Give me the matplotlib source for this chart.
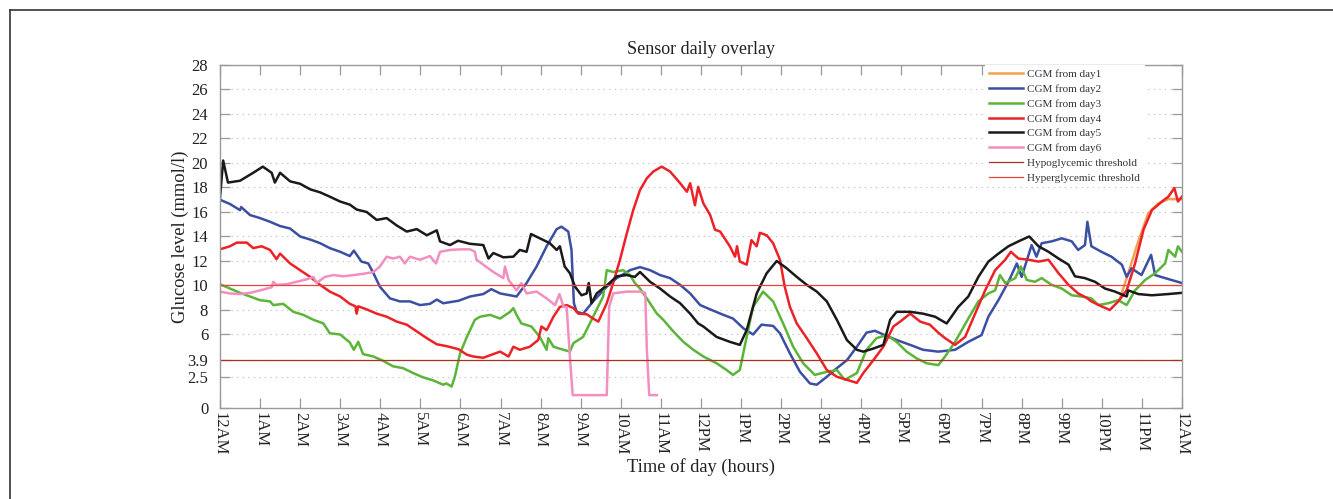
import matplotlib
matplotlib.use('Agg')
import matplotlib.pyplot as plt
from matplotlib.lines import Line2D

plt.rcParams['font.family'] = ['Liberation Serif', 'DejaVu Serif']

# hours since midnight / glucose (mmol/l)
day1_h = [22.45, 22.66, 22.91, 23.16, 23.41, 23.66, 24.0]
day1_v = [8.9, 11.0, 13.6, 15.9, 16.7, 17.05, 17.05]

day2_h = [0.0, 0.25, 0.5, 0.53, 0.75, 1.0, 1.25, 1.5, 1.75, 2.0, 2.25, 2.5, 2.74, 3.0, 3.24, 3.34,
          3.53, 3.7, 3.83, 3.99, 4.24, 4.49, 4.74, 4.99, 5.24, 5.41, 5.57, 5.95, 6.24, 6.57, 6.77,
          6.99, 7.4, 7.65, 7.9, 8.15, 8.4, 8.52, 8.69, 8.77, 8.83, 8.9, 9.06, 9.31, 9.65, 9.9,
          10.23, 10.48, 10.73, 10.98, 11.23, 11.48, 11.73, 11.98, 12.23, 12.56, 12.8, 13.06, 13.3,
          13.51, 13.8, 13.97, 14.22, 14.47, 14.72, 14.89, 15.14, 15.39, 15.64, 15.89, 16.13, 16.34,
          16.55, 16.88, 17.22, 17.54, 17.92, 18.34, 18.67, 19.0, 19.17, 19.42, 19.67, 19.88, 20.0,
          20.25, 20.37, 20.5, 20.75, 21.0, 21.25, 21.41, 21.58, 21.64, 21.74, 21.99, 22.24, 22.5,
          22.62, 22.74, 22.99, 23.23, 23.33, 23.58, 24.0]
day2_v = [17.0, 16.65, 16.15, 16.4, 15.75, 15.5, 15.2, 14.85, 14.65, 14.0, 13.75, 13.45, 13.05, 12.75,
          12.4, 12.85, 11.95, 11.8, 11.0, 9.9, 8.95, 8.7, 8.7, 8.4, 8.5, 8.85, 8.55, 8.75, 9.1, 9.3,
          9.7, 9.35, 9.1, 10.2, 11.55, 13.2, 14.6, 14.8, 14.4, 12.9, 8.55, 7.85, 7.7, 8.7, 9.9, 10.6,
          11.25, 11.5, 11.25, 10.85, 10.6, 10.05, 9.35, 8.4, 8.05, 7.6, 7.3, 6.5, 6.0, 6.8, 6.7, 6.1,
          4.45, 2.95, 2.0, 1.9, 2.55, 3.25, 3.9, 5.0, 6.15, 6.3, 6.0, 5.55, 5.15, 4.75, 4.6, 4.75,
          5.4, 5.95, 7.45, 8.8, 10.3, 11.8, 10.7, 13.3, 12.35, 13.45, 13.6, 13.85, 13.6, 12.9, 13.3,
          15.2, 13.2, 12.75, 12.35, 11.7, 10.7, 11.4, 10.85, 12.5, 10.85, 10.6, 10.2]

day3_h = [0.0, 0.25, 0.5, 0.75, 1.0, 1.25, 1.33, 1.58, 1.83, 2.08, 2.33, 2.58, 2.74, 3.0, 3.24, 3.34,
          3.45, 3.57, 3.83, 4.07, 4.32, 4.57, 4.82, 5.07, 5.32, 5.57, 5.65, 5.78, 5.86, 5.99, 6.16,
          6.36, 6.49, 6.74, 6.99, 7.24, 7.32, 7.4, 7.52, 7.77, 7.98, 8.15, 8.19, 8.32, 8.57, 8.73,
          8.82, 9.06, 9.31, 9.56, 9.65, 9.81, 10.06, 10.23, 10.35, 10.48, 10.73, 10.9, 11.06, 11.31,
          11.56, 11.81, 12.06, 12.39, 12.64, 12.8, 12.97, 13.14, 13.3, 13.55, 13.8, 14.05, 14.3,
          14.55, 14.84, 15.14, 15.39, 15.59, 15.89, 16.13, 16.38, 16.63, 16.88, 17.13, 17.38, 17.63,
          17.92, 18.09, 18.34, 18.67, 18.92, 19.17, 19.34, 19.46, 19.59, 19.84, 19.98, 20.13, 20.33,
          20.5, 20.75, 21.0, 21.25, 21.49, 21.74, 21.91, 22.16, 22.41, 22.62, 22.83, 23.08, 23.33,
          23.58, 23.66, 23.83, 23.9, 24.0]
day3_v = [10.1, 9.75, 9.4, 9.1, 8.8, 8.7, 8.4, 8.5, 7.85, 7.6, 7.2, 6.9, 6.1, 6.0, 5.35, 4.75, 5.4, 4.4,
          4.2, 3.85, 3.4, 3.25, 2.85, 2.5, 2.25, 1.9, 2.0, 1.75, 2.55, 4.45, 5.8, 7.2, 7.45, 7.6,
          7.3, 7.85, 8.15, 7.6, 6.9, 6.65, 5.8, 4.75, 5.7, 5.0, 4.75, 4.6, 5.3, 5.8, 7.45, 9.1,
          11.25, 11.1, 11.25, 10.85, 10.2, 9.75, 8.55, 7.7, 7.2, 6.25, 5.4, 4.75, 4.2, 3.65, 3.1,
          2.7, 3.1, 5.8, 8.25, 9.5, 8.7, 6.9, 5.0, 3.65, 2.7, 2.95, 3.1, 2.3, 2.85, 4.75, 5.7, 5.95,
          5.4, 4.6, 4.05, 3.65, 3.5, 4.2, 5.4, 7.3, 8.7, 9.35, 9.6, 10.85, 10.2, 10.6, 11.55, 10.45,
          10.3, 10.6, 10.05, 9.75, 9.2, 9.1, 8.95, 8.4, 8.55, 8.8, 8.4, 9.6, 10.45, 11.0, 11.8,
          12.9, 12.35, 13.2, 12.75]

day4_h = [0.0, 0.25, 0.42, 0.67, 0.83, 1.04, 1.25, 1.41, 1.5, 1.75, 2.0, 2.25, 2.5, 2.74, 3.0, 3.24,
          3.38, 3.41, 3.45, 3.66, 3.91, 4.16, 4.41, 4.66, 4.91, 5.16, 5.41, 5.65, 5.95, 6.16, 6.32,
          6.57, 6.82, 6.99, 7.2, 7.32, 7.48, 7.73, 7.94, 8.02, 8.15, 8.32, 8.48, 8.65, 8.82, 8.94,
          9.15, 9.31, 9.44, 9.65, 9.81, 9.98, 10.15, 10.31, 10.48, 10.65, 10.81, 11.02, 11.23,
          11.48, 11.65, 11.73, 11.85, 11.93, 12.06, 12.23, 12.35, 12.48, 12.72, 12.85, 12.9, 12.97,
          13.14, 13.26, 13.39, 13.47, 13.64, 13.8, 13.97, 14.09, 14.22, 14.39, 14.64, 14.89, 15.14,
          15.39, 15.64, 15.89, 16.05, 16.3, 16.55, 16.8, 16.97, 17.22, 17.47, 17.71, 17.92, 18.09,
          18.34, 18.59, 18.84, 19.09, 19.34, 19.59, 19.73, 19.92, 20.17, 20.42, 20.67, 20.92,
          21.17, 21.41, 21.62, 21.74, 21.99, 22.2, 22.41, 22.62, 22.83, 23.04, 23.25, 23.5, 23.66,
          23.81, 23.9, 24.0]
day4_v = [12.95, 13.2, 13.5, 13.5, 13.05, 13.2, 12.9, 12.15, 12.6, 11.8, 11.25, 10.7, 10.05, 9.5, 9.1,
          8.5, 8.3, 7.7, 8.3, 8.05, 7.7, 7.45, 7.05, 6.8, 6.25, 5.7, 5.2, 5.05, 4.8, 4.35, 4.2, 4.1,
          4.4, 4.6, 4.2, 5.0, 4.75, 5.0, 5.55, 6.65, 6.35, 7.45, 8.25, 8.4, 8.15, 7.7, 7.65, 7.3,
          7.05, 8.55, 10.2, 12.1, 14.25, 16.15, 17.8, 18.75, 19.3, 19.7, 19.3, 18.35, 17.65, 18.35,
          16.55, 18.05, 16.7, 15.75, 14.55, 14.4, 13.2, 12.35, 13.2, 11.95, 11.7, 13.7, 13.2, 14.3,
          14.1, 13.45, 12.1, 9.9, 8.25, 6.9, 5.7, 4.45, 3.1, 2.55, 2.3, 2.05, 2.85, 3.9, 5.0, 6.65,
          7.05, 7.7, 7.05, 6.8, 6.15, 5.7, 5.15, 5.8, 7.7, 9.6, 11.25, 12.1, 12.75, 12.2, 12.1,
          11.95, 12.1, 11.0, 10.05, 9.35, 9.0, 8.7, 8.3, 8.0, 8.7, 9.6, 11.8, 14.55, 16.15, 16.85,
          17.25, 17.95, 16.85, 17.25]

day5_h = [0.0, 0.08, 0.2, 0.5, 0.83, 1.07, 1.29, 1.37, 1.5, 1.75, 2.0, 2.25, 2.5, 2.74, 3.0, 3.24,
          3.41, 3.66, 3.91, 4.16, 4.41, 4.66, 4.91, 5.16, 5.41, 5.49, 5.74, 5.94, 6.24, 6.57, 6.7,
          6.82, 7.07, 7.32, 7.48, 7.65, 7.76, 7.98, 8.23, 8.4, 8.48, 8.6, 8.73, 8.86, 9.02, 9.15,
          9.2, 9.27, 9.4, 9.65, 9.9, 10.15, 10.35, 10.48, 10.73, 10.98, 11.23, 11.48, 11.73, 11.93,
          12.06, 12.39, 12.72, 12.97, 13.14, 13.39, 13.64, 13.89, 14.14, 14.39, 14.64, 14.89, 15.14,
          15.39, 15.64, 15.89, 16.05, 16.3, 16.55, 16.72, 16.88, 17.22, 17.54, 17.84, 18.13, 18.42,
          18.67, 18.92, 19.17, 19.42, 19.67, 19.92, 20.19, 20.42, 20.67, 20.92, 21.17, 21.33,
          21.58, 21.83, 22.08, 22.33, 22.62, 22.66, 22.91, 23.25, 23.66, 24.0]
day5_v = [17.1, 20.2, 18.4, 18.55, 19.2, 19.7, 19.2, 18.4, 19.2, 18.5, 18.3, 17.85, 17.6, 17.25,
          16.85, 16.6, 16.2, 16.0, 15.35, 15.5, 14.9, 14.4, 14.6, 14.1, 14.5, 13.6, 13.3, 13.65,
          13.4, 13.3, 12.2, 12.65, 12.3, 12.35, 12.9, 12.75, 14.2, 13.85, 13.45, 12.9, 13.2, 11.55,
          11.0, 9.9, 9.2, 9.35, 10.2, 8.55, 9.35, 10.0, 10.75, 10.85, 10.7, 11.1, 10.3, 9.75, 9.1,
          8.55, 7.7, 6.9, 6.65, 5.8, 5.4, 5.15, 6.35, 9.35, 11.0, 12.0, 11.4, 10.7, 10.05, 9.5, 8.7,
          7.2, 5.55, 4.75, 4.6, 4.85, 5.15, 7.2, 7.85, 7.85, 7.7, 7.45, 6.9, 8.25, 9.1, 10.7, 11.95,
          12.6, 13.2, 13.6, 14.0, 13.2, 12.75, 12.2, 11.7, 10.75, 10.6, 10.3, 9.75, 9.5, 9.1, 9.6,
          9.3, 9.2, 9.3, 9.4]

day6_h = [0.0, 0.25, 0.5, 0.75, 1.0, 1.29, 1.33, 1.41, 1.66, 1.91, 2.16, 2.33, 2.41, 2.62, 2.83,
          3.08, 3.33, 3.57, 3.83, 3.99, 4.16, 4.32, 4.49, 4.61, 4.74, 4.99, 5.24, 5.39, 5.49, 5.74,
          5.99, 6.24, 6.36, 6.4, 6.57, 6.82, 7.07, 7.11, 7.2, 7.4, 7.52, 7.65, 7.9, 8.15, 8.36,
          8.47, 8.57, 8.65, 8.73, 8.8, 9.65, 9.71, 9.81, 10.15, 10.48, 10.61, 10.65, 10.71, 10.9]
day6_v = [9.5, 9.35, 9.3, 9.4, 9.6, 9.85, 10.3, 10.05, 10.1, 10.3, 10.5, 10.7, 10.2, 10.7, 10.85,
          10.75, 10.85, 10.95, 11.1, 11.55, 12.35, 12.2, 12.35, 11.8, 12.35, 12.1, 12.4, 11.8,
          12.75, 12.9, 12.95, 12.95, 12.75, 12.1, 11.7, 11.1, 10.6, 11.55, 10.45, 9.6, 10.2, 9.35,
          9.5, 8.95, 8.4, 9.3, 8.25, 8.25, 4.2, 1.05, 1.05, 8.25, 9.35, 9.5, 9.5, 9.4, 4.75, 1.05,
          1.05]

hypo = 3.9
hyper = 10.0

yticks = [0, 2.5, 3.9, 6, 8, 10, 12, 14, 16, 18, 20, 22, 24, 26, 28]
xtick_labels = ['12AM', '1AM', '2AM', '3AM', '4AM', '5AM', '6AM', '7AM', '8AM', '9AM', '10AM',
                '11AM', '12PM', '1PM', '2PM', '3PM', '4PM', '5PM', '6PM', '7PM', '8PM', '9PM',
                '10PM', '11PM', '12AM']

fig = plt.figure(figsize=(13.33, 4.99), dpi=100)
ax = fig.add_axes([0.1650, 0.1824, 0.7217, 0.6874])

ax.plot(day1_h, day1_v, color='#f5a050', lw=1.8, label='CGM from day1')
ax.plot(day2_h, day2_v, color='#3b4fa3', lw=1.8, label='CGM from day2')
ax.plot(day3_h, day3_v, color='#5bb538', lw=1.8, label='CGM from day3')
ax.plot(day4_h, day4_v, color='#ec2227', lw=1.8, label='CGM from day4')
ax.plot(day5_h, day5_v, color='#1a1a1a', lw=1.8, label='CGM from day5')
ax.plot(day6_h, day6_v, color='#f28fc0', lw=1.8, label='CGM from day6')
ax.axhline(hypo, color='#a83222', lw=0.9, label='Hypoglycemic threshold')
ax.axhline(hyper, color='#e5453c', lw=0.9, label='Hyperglycemic threshold')

ax.set_xlim(0, 24)
ax.set_ylim(0, 28)
ax.set_yticks(yticks)
ax.set_yticklabels([str(t) for t in yticks])
ax.set_xticks(range(25))
ax.set_xticklabels(xtick_labels, rotation=270)
ax.yaxis.grid(True, linestyle=(0, (1, 4)), color='#b8b8b8', lw=0.8)
ax.set_axisbelow(True)
ax.tick_params(direction='in', length=7, width=0.9, color='#999999',
               top=True, right=True, labelsize=12, labelcolor='#222222')
ax.tick_params(axis='y', pad=8.5)
ax.tick_params(axis='x', pad=3)
for s in ax.spines.values():
    s.set_color('#999999')
    s.set_linewidth(1.0)

ax.set_title('Sensor daily overlay', fontsize=13, color='#222222', pad=8)
ax.set_ylabel('Glucose level (mmol/l)', fontsize=13.3, color='#222222', labelpad=-1.5)
ax.set_xlabel('Time of day (hours)', fontsize=13.3, color='#222222', labelpad=2)

leg = ax.legend(loc='upper left', bbox_to_anchor=((985 - 220) / 962, 1.0), borderaxespad=0,
                fontsize=8, handlelength=3.0, handletextpad=0.4, labelspacing=0.45,
                frameon=True, fancybox=False, borderpad=0.4)
leg.get_frame().set_edgecolor('none')
leg.get_frame().set_facecolor('white')
leg.get_frame().set_alpha(1.0)
for t in leg.get_texts():
    t.set_color('#333333')

# frame around the figure (top and left edges visible)
fig.add_artist(Line2D([9.5 / 1333, 9.5 / 1333], [0, 1 - 9.5 / 499], color='#333333', lw=1.2))
fig.add_artist(Line2D([9.5 / 1333, 1], [1 - 9.5 / 499, 1 - 9.5 / 499], color='#333333', lw=1.2))

fig.savefig('out.png', dpi=100)
